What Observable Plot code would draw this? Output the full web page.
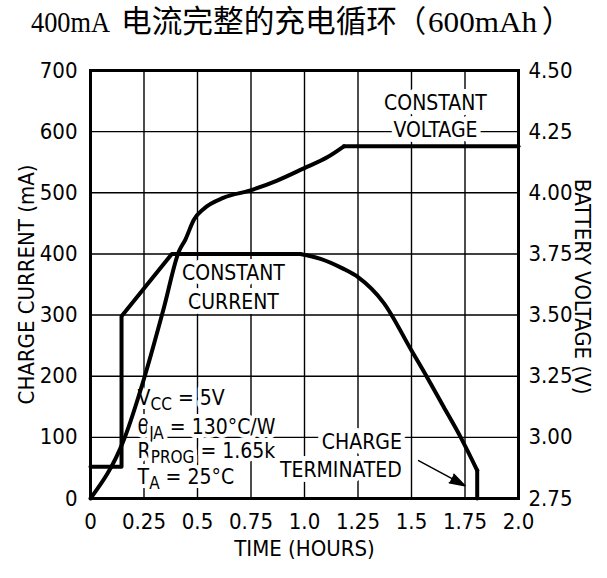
<!DOCTYPE html>
<html>
<head>
<meta charset="utf-8">
<script src="https://cdn.jsdelivr.net/npm/d3@7"></script>
<script src="https://cdn.jsdelivr.net/npm/@observablehq/plot@0.6"></script>
<style>
  html, body { margin: 0; padding: 0; background: #fff; }
  #title { display: block; }
  #chart svg { display: block; }
</style>
</head>
<body>
<svg id="title" width="607" height="44"></svg>
<div id="chart"></div>
<script>
// ---------- data ----------
const titleLatin1 = "400mA";
const titleCJK = "电流完整的充电循环";
const titleLatin2 = "600mAh";

const xTicks = [0, 0.25, 0.5, 0.75, 1.0, 1.25, 1.5, 1.75, 2.0];
const xTickLabels = ["0", "0.25", "0.5", "0.75", "1.0", "1.25", "1.5", "1.75", "2.0"];
const currentTicks = [0, 100, 200, 300, 400, 500, 600, 700];
const voltTicks = [2.75, 3.00, 3.25, 3.50, 3.75, 4.00, 4.25, 4.50];
const voltTickLabels = ["2.75", "3.00", "3.25", "3.50", "3.75", "4.00", "4.25", "4.50"];

// charge current (mA) vs time (hours)
const currentHours = [0, 0.145, 0.145, 0.38, 0.98, 1.075, 1.18, 1.25, 1.37, 1.50, 1.57, 1.65, 1.73, 1.807, 1.807];
const currentMA    = [52, 52, 298, 400, 400, 392, 376, 362, 320, 242, 200, 150, 100, 46, 0];

// battery voltage (V) vs time (hours)
const voltHours = [0, 0.156, 0.257, 0.343, 0.413, 0.444, 0.483, 0.53, 0.623, 0.748, 0.872, 0.997, 1.106, 1.184, 2.0];
const volts     = [2.75, 2.99, 3.26, 3.53, 3.76, 3.81, 3.89, 3.935, 3.98, 4.01, 4.05, 4.10, 4.145, 4.19, 4.19];

// annotations (data units: hours, mA)
const labelsCenter = ["CONSTANT", "VOLTAGE", "CONSTANT", "CURRENT"];
const labelsCenterX = [1.612, 1.612, 0.668, 0.668];
const labelsCenterY = [646, 602, 368, 321];
const labelsEnd = ["CHARGE", "TERMINATED"];
const labelsEndX = [1.455, 1.455];
const labelsEndY = [92, 46];
const params = ["V_{CC} = 5V", "θ_{JA} = 130°C/W", "R_{PROG} = 1.65k", "T_{A} = 25°C"];
const paramsX = [0.22, 0.22, 0.22, 0.22];
const paramsY = [164, 117, 78, 34];
const arrowFrom = [1.533, 62];
const arrowTo = [1.75, 21];

// ---------- title ----------
const ts = d3.select("#title");
ts.append("text").attr("x", 31).attr("y", 32)
  .attr("font-family", "'Liberation Serif', serif").attr("font-size", 29.5)
  .attr("textLength", 79).attr("lengthAdjust", "spacingAndGlyphs")
  .text(titleLatin1);
ts.append("text").attr("x", 121).attr("y", 32)
  .attr("font-family", "'Noto Sans CJK SC', sans-serif").attr("font-size", 30.5)
  .attr("textLength", 276).attr("lengthAdjust", "spacingAndGlyphs")
  .text(titleCJK);
ts.append("text").attr("x", 411).attr("y", 32).attr("text-anchor", "middle")
  .attr("font-family", "'Noto Sans CJK SC', sans-serif").attr("font-size", 30.5)
  .text("（");
ts.append("text").attr("x", 428).attr("y", 32)
  .attr("font-family", "'Liberation Serif', serif").attr("font-size", 29.5)
  .attr("textLength", 109).attr("lengthAdjust", "spacingAndGlyphs")
  .text(titleLatin2);
ts.append("text").attr("x", 557).attr("y", 32).attr("text-anchor", "middle")
  .attr("font-family", "'Noto Sans CJK SC', sans-serif").attr("font-size", 30.5)
  .text("）");

// ---------- chart ----------
const toMA = v => (v - 2.75) / 1.75 * 700;
const currentData = currentHours.map((t, i) => ({t, y: currentMA[i]}));
const currentStep = currentData.slice(0, 5);      // trickle + ramp + constant current
const currentTaper = currentData.slice(4, 14);    // taper in constant-voltage mode
const currentEnd = currentData.slice(13);         // termination drop
const voltData = voltHours.map((t, i) => ({t, y: toMA(volts[i])}));
const voltRise = voltData.slice(0, 14);
const voltFlat = voltData.slice(13);
const centerData = labelsCenter.map((s, i) => ({s, x: labelsCenterX[i], y: labelsCenterY[i]}));
const endData = labelsEnd.map((s, i) => ({s, x: labelsEndX[i], y: labelsEndY[i]}));
const paramData = params.map((s, i) => ({s, x: paramsX[i], y: paramsY[i]}));

const FONT = "'Liberation Sans Narrow', 'Arial Narrow', 'DejaVu Sans Condensed', sans-serif";

const svg = Plot.plot({
  width: 607,
  height: 534,
  marginTop: 26,
  marginBottom: 80,
  marginLeft: 90,
  marginRight: 89,
  style: {fontFamily: FONT, fontSize: "22px", color: "#000", background: "#fff"},
  x: {domain: [0, 2]},
  y: {domain: [0, 700]},
  marks: [
    Plot.gridX(xTicks, {stroke: "#000", strokeOpacity: 1, strokeWidth: 1.4}),
    Plot.gridY(currentTicks, {stroke: "#000", strokeOpacity: 1, strokeWidth: 1.4}),
    Plot.axisX(xTicks, {tickSize: 0, tickPadding: 15, label: null,
      tickFormat: d => xTickLabels[xTicks.indexOf(d)], fontSize: 22}),
    Plot.axisY(currentTicks, {anchor: "left", tickSize: 0, tickPadding: 13, label: null,
      tickFormat: d => String(d), fontSize: 22}),
    Plot.axisY(voltTicks.map(toMA), {anchor: "right", tickSize: 0, tickPadding: 10, label: null,
      tickFormat: d => voltTickLabels[voltTicks.map(toMA).indexOf(d)], fontSize: 22}),
    Plot.text(["TIME (HOURS)"], {frameAnchor: "bottom", dy: 50, textAnchor: "middle", lineAnchor: "middle", fontSize: 22}),
    Plot.text(["CHARGE CURRENT (mA)"], {frameAnchor: "left", dx: -64, rotate: -90, textAnchor: "middle", lineAnchor: "middle", fontSize: 22}),
    Plot.text(["BATTERY VOLTAGE (V)"], {frameAnchor: "right", dx: 64, dy: 2, rotate: 90, textAnchor: "middle", lineAnchor: "middle", fontSize: 22}),
    Plot.text(centerData, {x: "x", y: "y", text: "s", textAnchor: "middle", fontSize: 21,
      stroke: "#fff", strokeWidth: 10, fill: "#000"}),
    Plot.text(endData, {x: "x", y: "y", text: "s", textAnchor: "end", fontSize: 21,
      stroke: "#fff", strokeWidth: 10, fill: "#000"}),
    Plot.text(paramData, {x: "x", y: "y", text: "s", textAnchor: "start", fontSize: 21,
      stroke: "#fff", strokeWidth: 8, fill: "#000"}),
    Plot.arrow([{x1: arrowFrom[0], y1: arrowFrom[1], x2: arrowTo[0], y2: arrowTo[1]}],
      {x1: "x1", y1: "y1", x2: "x2", y2: "y2", stroke: "#000", fill: "#000", strokeWidth: 1.5,
       headLength: 16, headAngle: 35}),
    Plot.line(currentStep, {x: "t", y: "y", stroke: "#000", strokeWidth: 4}),
    Plot.line(currentTaper, {x: "t", y: "y", stroke: "#000", strokeWidth: 4, curve: "monotone-x"}),
    Plot.line(currentEnd, {x: "t", y: "y", stroke: "#000", strokeWidth: 4}),
    Plot.line(voltRise, {x: "t", y: "y", stroke: "#000", strokeWidth: 4, curve: "monotone-x"}),
    Plot.line(voltFlat, {x: "t", y: "y", stroke: "#000", strokeWidth: 4}),
    Plot.frame({stroke: "#000", strokeWidth: 3})
  ]
});

// subscripts
d3.select(svg).selectAll("text").each(function () {
  const t = this.textContent;
  if (!t.includes("_{")) return;
  const el = d3.select(this);
  el.text(null);
  const parts = t.split(/(_\{[^}]*\})/);
  let shifted = false;
  parts.forEach(p => {
    if (!p) return;
    if (p.startsWith("_{")) {
      el.append("tspan").attr("dy", 5).attr("font-size", "17px").text(p.slice(2, -1));
      shifted = true;
    } else {
      const sp = el.append("tspan").text(p);
      if (shifted) { sp.attr("dy", -5); shifted = false; }
    }
  });
});

document.getElementById("chart").appendChild(svg);
</script>
</body>
</html>
